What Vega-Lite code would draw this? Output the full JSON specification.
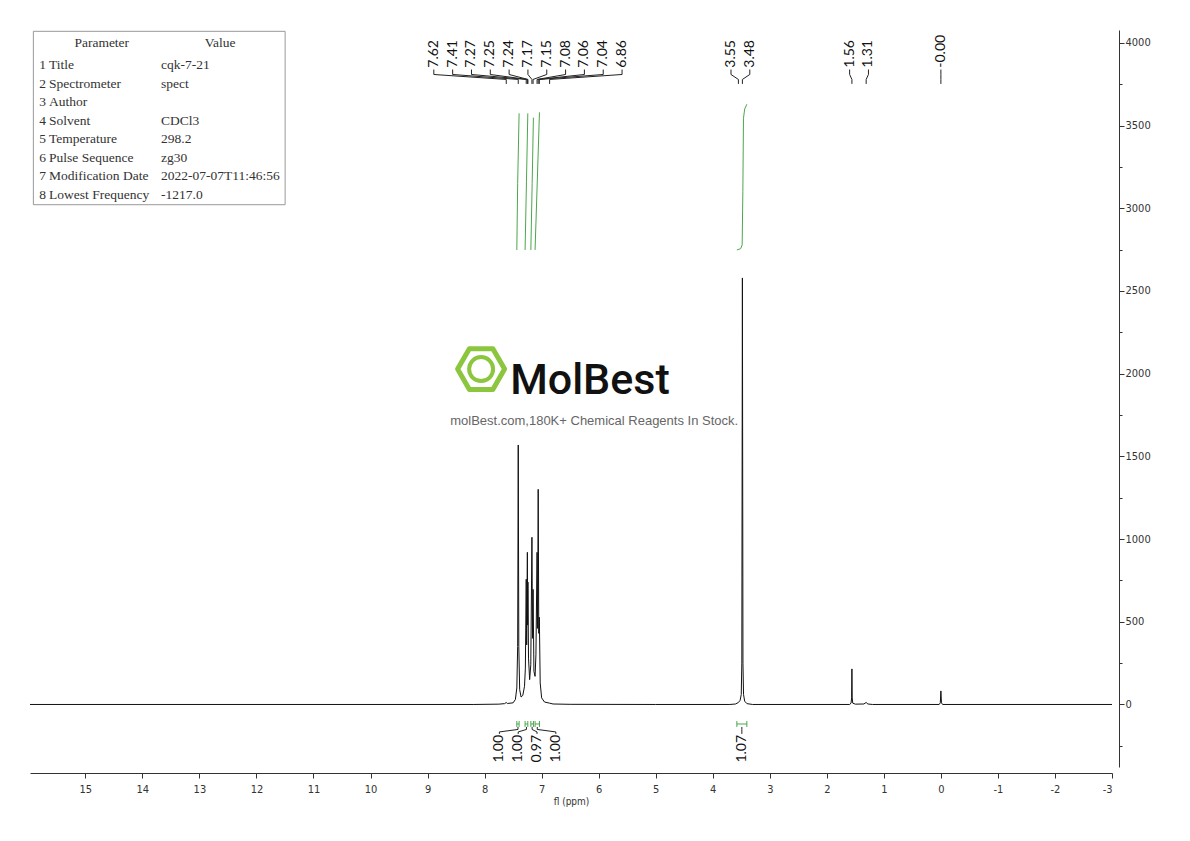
{
  "$schema": "https://vega.github.io/schema/vega-lite/v6.json",
  "width": 1082,
  "height": 737,
  "autosize": {"type": "none"},
  "padding": {"left": 30, "top": 30, "right": 78, "bottom": 74},
  "background": "white",
  "config": {
    "view": {"stroke": null},
    "axis": {"grid": false}
  },
  "datasets": {
    "spec": [
      {"ppm": 15.97, "v": 0}, {"ppm": 8.2, "v": 0}, {"ppm": 7.75, "v": 2}, {"ppm": 7.65, "v": 5},
      {"ppm": 7.62, "v": 12}, {"ppm": 7.6, "v": 6}, {"ppm": 7.5, "v": 10}, {"ppm": 7.46, "v": 30},
      {"ppm": 7.435, "v": 100}, {"ppm": 7.42, "v": 350}, {"ppm": 7.41, "v": 1569}, {"ppm": 7.4, "v": 350},
      {"ppm": 7.385, "v": 90}, {"ppm": 7.36, "v": 45}, {"ppm": 7.33, "v": 55}, {"ppm": 7.3, "v": 110},
      {"ppm": 7.285, "v": 220}, {"ppm": 7.27, "v": 757}, {"ppm": 7.262, "v": 360}, {"ppm": 7.25, "v": 920},
      {"ppm": 7.245, "v": 480}, {"ppm": 7.24, "v": 740}, {"ppm": 7.23, "v": 280}, {"ppm": 7.21, "v": 150},
      {"ppm": 7.19, "v": 240}, {"ppm": 7.17, "v": 1011}, {"ppm": 7.16, "v": 400}, {"ppm": 7.15, "v": 696},
      {"ppm": 7.135, "v": 200}, {"ppm": 7.115, "v": 170}, {"ppm": 7.1, "v": 300}, {"ppm": 7.08, "v": 920},
      {"ppm": 7.07, "v": 460}, {"ppm": 7.06, "v": 1301}, {"ppm": 7.05, "v": 430}, {"ppm": 7.04, "v": 527},
      {"ppm": 7.025, "v": 130}, {"ppm": 7.0, "v": 40}, {"ppm": 6.95, "v": 15}, {"ppm": 6.86, "v": 8},
      {"ppm": 6.8, "v": 3}, {"ppm": 6.5, "v": 1}, {"ppm": 5.0, "v": 0}, {"ppm": 3.7, "v": 0},
      {"ppm": 3.6, "v": 3}, {"ppm": 3.55, "v": 12}, {"ppm": 3.52, "v": 25}, {"ppm": 3.5, "v": 60},
      {"ppm": 3.49, "v": 250}, {"ppm": 3.48, "v": 2579}, {"ppm": 3.47, "v": 250}, {"ppm": 3.46, "v": 60},
      {"ppm": 3.44, "v": 20}, {"ppm": 3.4, "v": 5}, {"ppm": 3.3, "v": 0}, {"ppm": 1.6, "v": 0},
      {"ppm": 1.575, "v": 8}, {"ppm": 1.565, "v": 40}, {"ppm": 1.56, "v": 215}, {"ppm": 1.555, "v": 40},
      {"ppm": 1.545, "v": 8}, {"ppm": 1.5, "v": 2}, {"ppm": 1.35, "v": 3}, {"ppm": 1.31, "v": 12},
      {"ppm": 1.28, "v": 3}, {"ppm": 1.2, "v": 0}, {"ppm": 0.03, "v": 0}, {"ppm": 0.01, "v": 10},
      {"ppm": 0.0, "v": 82}, {"ppm": -0.01, "v": 10}, {"ppm": -0.03, "v": 0}, {"ppm": -3.0, "v": 0}
    ],
    "peaks": [
      {"ppm": 7.62, "label": "7.62", "g": 1}, {"ppm": 7.41, "label": "7.41", "g": 1},
      {"ppm": 7.27, "label": "7.27", "g": 1}, {"ppm": 7.25, "label": "7.25", "g": 1},
      {"ppm": 7.24, "label": "7.24", "g": 1}, {"ppm": 7.17, "label": "7.17", "g": 1},
      {"ppm": 7.15, "label": "7.15", "g": 1}, {"ppm": 7.08, "label": "7.08", "g": 1},
      {"ppm": 7.06, "label": "7.06", "g": 1}, {"ppm": 7.04, "label": "7.04", "g": 1},
      {"ppm": 6.86, "label": "6.86", "g": 1},
      {"ppm": 3.55, "label": "3.55", "g": 2}, {"ppm": 3.48, "label": "3.48", "g": 2},
      {"ppm": 1.56, "label": "1.56", "g": 3}, {"ppm": 1.31, "label": "1.31", "g": 3},
      {"ppm": 0.0, "label": "-0.00", "g": 4}
    ],
    "ints": [
      {"from": 7.435, "to": 7.395, "val": "1.00", "g": 1},
      {"from": 7.29, "to": 7.242, "val": "1.00", "g": 1},
      {"from": 7.189, "to": 7.144, "val": "0.97", "g": 1},
      {"from": 7.115, "to": 7.038, "val": "1.00", "g": 1},
      {"from": 3.577, "to": 3.402, "val": "1.07", "g": 2}
    ],
    "icurve": [
      {"id": 1, "ppm": 7.435, "v": 2748}, {"id": 1, "ppm": 7.42, "v": 3150}, {"id": 1, "ppm": 7.395, "v": 3574},
      {"id": 2, "ppm": 7.29, "v": 2748}, {"id": 2, "ppm": 7.266, "v": 3160}, {"id": 2, "ppm": 7.242, "v": 3574},
      {"id": 3, "ppm": 7.189, "v": 2748}, {"id": 3, "ppm": 7.166, "v": 3150}, {"id": 3, "ppm": 7.144, "v": 3548},
      {"id": 4, "ppm": 7.115, "v": 2748}, {"id": 4, "ppm": 7.076, "v": 3165}, {"id": 4, "ppm": 7.038, "v": 3580},
      {"id": 5, "ppm": 3.577, "v": 2748}, {"id": 5, "ppm": 3.51, "v": 2756}, {"id": 5, "ppm": 3.484, "v": 2779},
      {"id": 5, "ppm": 3.472, "v": 3100}, {"id": 5, "ppm": 3.461, "v": 3544}, {"id": 5, "ppm": 3.44, "v": 3600},
      {"id": 5, "ppm": 3.402, "v": 3629}
    ],
    "params": [
      {"n": 1, "name": "Title", "value": "cqk-7-21"},
      {"n": 2, "name": "Spectrometer", "value": "spect"},
      {"n": 3, "name": "Author", "value": ""},
      {"n": 4, "name": "Solvent", "value": "CDCl3"},
      {"n": 5, "name": "Temperature", "value": "298.2"},
      {"n": 6, "name": "Pulse Sequence", "value": "zg30"},
      {"n": 7, "name": "Modification Date", "value": "2022-07-07T11:46:56"},
      {"n": 8, "name": "Lowest Frequency", "value": "-1217.0"}
    ]
  },
  "layer": [
    {
      "layer": [
        {
          "data": {"name": "spec"},
          "mark": {"type": "line", "color": "#111111", "strokeWidth": 1},
          "encoding": {
            "x": {
              "field": "ppm", "type": "quantitative",
              "scale": {"domain": [-3, 15.97], "reverse": true, "nice": false, "zero": false},
              "axis": {
                "orient": "bottom", "offset": 6, "title": "fl (ppm)",
                "values": [-3, -2.5, -2, -1.5, -1, -0.5, 0, 0.5, 1, 1.5, 2, 2.5, 3, 3.5, 4, 4.5, 5, 5.5, 6, 6.5, 7, 7.5, 8, 8.5, 9, 9.5, 10, 10.5, 11, 11.5, 12, 12.5, 13, 13.5, 14, 14.5, 15, 15.5],
                "labelExpr": "datum.value % 1 === 0 ? '' + datum.value : ''",
                "tickSize": {"condition": {"test": "datum.value % 1 === 0", "value": 5}, "value": 3},
                "domainColor": "#333333", "tickColor": "#333333", "labelColor": "#333333",
                "labelFont": "DejaVu Sans Condensed, Roboto, sans-serif",
                "labelFontSize": 11, "labelPadding": 5,
                "titleFont": "DejaVu Sans Condensed, Roboto, sans-serif",
                "titleFontSize": 10, "titleFontWeight": "normal", "titleColor": "#333333", "titlePadding": 2
              }
            },
            "y": {
              "field": "v", "type": "quantitative",
              "scale": {"domain": [-378, 4078], "nice": false, "zero": false},
              "axis": {
                "orient": "right", "offset": 7, "title": null,
                "values": [-250, 0, 250, 500, 750, 1000, 1250, 1500, 1750, 2000, 2250, 2500, 2750, 3000, 3250, 3500, 3750, 4000],
                "labelExpr": "datum.value % 500 === 0 ? '' + datum.value : ''",
                "tickSize": {"condition": {"test": "datum.value % 500 === 0", "value": 5}, "value": 3},
                "domainColor": "#333333", "tickColor": "#333333", "labelColor": "#333333",
                "labelFont": "DejaVu Sans Condensed, Roboto, sans-serif",
                "labelFontSize": 11, "labelPadding": 1
              }
            }
          }
        },
        {
          "data": {"name": "icurve"},
          "mark": {"type": "line", "color": "#4CA64C", "strokeWidth": 1},
          "encoding": {
            "x": {"field": "ppm", "type": "quantitative"},
            "y": {"field": "v", "type": "quantitative"},
            "detail": {"field": "id"}
          }
        },
        {
          "data": {"name": "peaks"},
          "transform": [
            {"joinaggregate": [{"op": "min", "field": "ppm", "as": "mn"}, {"op": "max", "field": "ppm", "as": "mx"}, {"op": "count", "as": "cnt"}], "groupby": ["g"]},
            {"window": [{"op": "row_number", "as": "r"}], "sort": [{"field": "ppm", "order": "descending"}], "groupby": ["g"]},
            {"calculate": "(datum.mn + datum.mx) / 2 + ((datum.cnt - 1) / 2 - (datum.r - 1)) * 0.33", "as": "lx"}
          ],
          "layer": [
            {
              "mark": {"type": "text", "angle": 270, "align": "left", "baseline": "middle", "font": "Lato, Open Sans, sans-serif", "fontSize": 14, "color": "#111111"},
              "encoding": {
                "x": {"field": "lx", "type": "quantitative"},
                "y": {"datum": 3850},
                "text": {"field": "label"}
              }
            },
            {
              "mark": {"type": "rule", "color": "#222222", "strokeWidth": 1},
              "encoding": {
                "x": {"field": "lx", "type": "quantitative"},
                "y": {"datum": 3839},
                "y2": {"datum": 3809}
              }
            },
            {
              "mark": {"type": "rule", "color": "#222222", "strokeWidth": 1},
              "encoding": {
                "x": {"field": "lx", "type": "quantitative"},
                "x2": {"field": "ppm"},
                "y": {"datum": 3809},
                "y2": {"datum": 3779}
              }
            },
            {
              "mark": {"type": "rule", "color": "#222222", "strokeWidth": 1},
              "encoding": {
                "x": {"field": "ppm", "type": "quantitative"},
                "y": {"datum": 3779},
                "y2": {"datum": 3752}
              }
            }
          ]
        },
        {
          "data": {"name": "ints"},
          "transform": [
            {"calculate": "(datum.from + datum.to) / 2", "as": "c"},
            {"joinaggregate": [{"op": "min", "field": "c", "as": "mn"}, {"op": "max", "field": "c", "as": "mx"}, {"op": "count", "as": "cnt"}], "groupby": ["g"]},
            {"window": [{"op": "row_number", "as": "r"}], "sort": [{"field": "c", "order": "descending"}], "groupby": ["g"]},
            {"calculate": "(datum.mn + datum.mx) / 2 + ((datum.cnt - 1) / 2 - (datum.r - 1)) * 0.33", "as": "lx"}
          ],
          "layer": [
            {
              "mark": {"type": "rule", "color": "#4CA64C", "strokeWidth": 1},
              "encoding": {
                "x": {"field": "from", "type": "quantitative"},
                "x2": {"field": "to"},
                "y": {"datum": -118}
              }
            },
            {
              "mark": {"type": "rule", "color": "#4CA64C", "strokeWidth": 1},
              "encoding": {
                "x": {"field": "from", "type": "quantitative"},
                "y": {"datum": -100},
                "y2": {"datum": -136}
              }
            },
            {
              "mark": {"type": "rule", "color": "#4CA64C", "strokeWidth": 1},
              "encoding": {
                "x": {"field": "to", "type": "quantitative"},
                "y": {"datum": -100},
                "y2": {"datum": -136}
              }
            },
            {
              "mark": {"type": "rule", "color": "#222222", "strokeWidth": 1},
              "encoding": {
                "x": {"field": "c", "type": "quantitative"},
                "y": {"datum": -136},
                "y2": {"datum": -151}
              }
            },
            {
              "mark": {"type": "rule", "color": "#222222", "strokeWidth": 1},
              "encoding": {
                "x": {"field": "c", "type": "quantitative"},
                "x2": {"field": "lx"},
                "y": {"datum": -151},
                "y2": {"datum": -166}
              }
            },
            {
              "mark": {"type": "rule", "color": "#222222", "strokeWidth": 1},
              "encoding": {
                "x": {"field": "lx", "type": "quantitative"},
                "y": {"datum": -166},
                "y2": {"datum": -178}
              }
            },
            {
              "mark": {"type": "text", "angle": 270, "align": "right", "baseline": "middle", "font": "Lato, Open Sans, sans-serif", "fontSize": 14, "color": "#111111"},
              "encoding": {
                "x": {"field": "lx", "type": "quantitative"},
                "y": {"datum": -184},
                "text": {"field": "val"}
              }
            }
          ]
        },
        {
          "data": {"values": [{"logo": "MolBest"}]},
          "layer": [
            {
              "mark": {"type": "point", "shape": "M-1,0L-0.5,-0.866L0.5,-0.866L1,0L0.5,0.866L-0.5,0.866Z", "filled": false, "size": 2209, "stroke": "#8CC63F", "strokeWidth": 5, "strokeJoin": "round", "opacity": 1},
              "encoding": {
                "x": {"datum": 8.061},
                "y": {"datum": 2028}
              }
            },
            {
              "mark": {"type": "point", "shape": "circle", "filled": false, "size": 576, "stroke": "#8CC63F", "strokeWidth": 4, "opacity": 1},
              "encoding": {
                "x": {"datum": 8.061},
                "y": {"datum": 2028}
              }
            },
            {
              "mark": {"type": "text", "align": "left", "baseline": "alphabetic", "font": "Roboto, sans-serif", "fontSize": 43, "fontWeight": 500, "color": "#111111"},
              "encoding": {
                "x": {"datum": 7.552},
                "y": {"datum": 1877},
                "text": {"field": "logo"}
              }
            },
            {
              "mark": {"type": "text", "align": "center", "baseline": "middle", "font": "Liberation Sans, Arial, sans-serif", "fontSize": 13, "color": "#666666", "text": "molBest.com,180K+ Chemical Reagents In Stock."},
              "encoding": {
                "x": {"datum": 6.079},
                "y": {"datum": 1714}
              }
            }
          ]
        }
      ]
    },
    {
      "layer": [
        {
          "data": {"values": [{"box": 1}]},
          "mark": {"type": "rect", "fill": "white", "stroke": "#999999", "strokeWidth": 1},
          "encoding": {
            "x": {"datum": 15.911},
            "x2": {"datum": 11.497},
            "y": {"datum": -0.838, "axis": null, "scale": {"domain": [-0.909, 38.95], "reverse": true, "nice": false, "zero": false}},
            "y2": {"datum": 8.54}
          }
        },
        {
          "data": {"values": [{"h": "Parameter", "pos": 14.712}, {"h": "Value", "pos": 12.637}]},
          "mark": {"type": "text", "align": "center", "baseline": "middle", "dy": -4, "font": "Liberation Serif, serif", "fontSize": 13.5, "color": "#333333"},
          "encoding": {
            "x": {"field": "pos", "type": "quantitative"},
            "y": {"datum": 0, "axis": null},
            "text": {"field": "h"}
          }
        },
        {
          "data": {"name": "params"},
          "mark": {"type": "text", "align": "left", "baseline": "middle", "font": "Liberation Serif, serif", "fontSize": 13.5, "color": "#333333"},
          "encoding": {
            "x": {"datum": 15.81},
            "y": {"field": "n", "type": "quantitative", "axis": null},
            "text": {"field": "n"}
          }
        },
        {
          "data": {"name": "params"},
          "mark": {"type": "text", "align": "left", "baseline": "middle", "font": "Liberation Serif, serif", "fontSize": 13.5, "color": "#333333"},
          "encoding": {
            "x": {"datum": 15.636},
            "y": {"field": "n", "type": "quantitative", "axis": null},
            "text": {"field": "name"}
          }
        },
        {
          "data": {"name": "params"},
          "mark": {"type": "text", "align": "left", "baseline": "middle", "font": "Liberation Serif, serif", "fontSize": 13.5, "color": "#333333"},
          "encoding": {
            "x": {"datum": 13.672},
            "y": {"field": "n", "type": "quantitative", "axis": null},
            "text": {"field": "value"}
          }
        }
      ]
    }
  ],
  "resolve": {"scale": {"y": "independent"}}
}
